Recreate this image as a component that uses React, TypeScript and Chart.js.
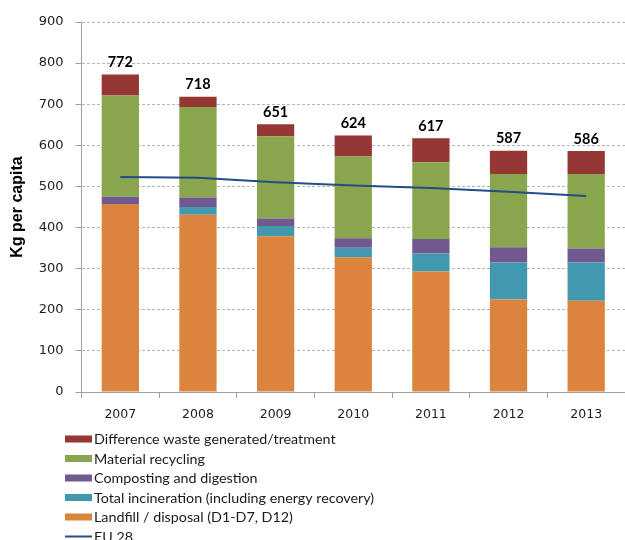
import React, { useEffect, useRef } from "react";
import { Chart, registerables } from "chart.js";

Chart.register(...registerables);

const years = ["2007", "2008", "2009", "2010", "2011", "2012", "2013"];
const landfill = [457, 431, 379, 328, 293, 225, 222];
const incineration = [0, 19, 25, 23, 44, 90, 93];
const composting = [18, 23, 18, 23, 35, 37, 34];
const recycling = [246, 220, 200, 199, 187, 178, 181];
const difference = [51, 25, 29, 51, 58, 57, 56];
const totals = [772, 718, 651, 624, 617, 587, 586];
const eu28 = [523, 521, 510, 502, 496, 487, 477];

const seriesNames = [
  "Landfill / disposal (D1-D7, D12)",
  "Total incineration (including energy recovery)",
  "Composting and digestion",
  "Material recycling",
  "Difference waste generated/treatment",
  "EU 28",
];
const legendOrder = [4, 3, 2, 1, 0, 5];
const yTitle = "Kg per capita";

const totalsPlugin = {
  id: "totalsLabels",
  afterDatasetsDraw(chart: any) {
    const { ctx, scales } = chart;
    ctx.save();
    ctx.font = "bold 14.5px Lato";
    ctx.fillStyle = "#000";
    ctx.textAlign = "center";
    ctx.textBaseline = "middle";
    totals.forEach((t, i) => {
      const x = scales.x.getPixelForValue(i);
      const y = scales.y.getPixelForValue(t);
      ctx.fillText(String(t), x, y - 12);
    });
    ctx.restore();
  },
};

const legendPlugin = {
  id: "listLegend",
  afterDraw(chart: any) {
    const { ctx } = chart;
    const ds = chart.data.datasets;
    ctx.save();
    ctx.font = "14.3px Lato";
    ctx.textBaseline = "middle";
    ctx.textAlign = "left";
    legendOrder.forEach((idx, row) => {
      const d = ds[idx];
      const y = 439 + row * 19.5;
      if (d.type === "line") {
        ctx.strokeStyle = d.borderColor;
        ctx.lineWidth = 2;
        ctx.beginPath();
        ctx.moveTo(65, y);
        ctx.lineTo(92, y);
        ctx.stroke();
      } else {
        ctx.fillStyle = d.backgroundColor;
        ctx.fillRect(65, y - 3.5, 27, 7);
      }
      ctx.fillStyle = "#1a1a1a";
      ctx.fillText(d.label, 94, y + 0.5);
    });
    ctx.restore();
  },
};

export default function App() {
  const ref = useRef<HTMLCanvasElement | null>(null);
  useEffect(() => {
    if (!ref.current) return;
    const barCommon = {
      type: "bar" as const,
      stack: "s",
      order: 1,
      barPercentage: 0.48,
      categoryPercentage: 1,
      borderWidth: 0,
    };
    const chart = new Chart(ref.current, {
      type: "bar",
      data: {
        labels: years,
        datasets: [
          { ...barCommon, label: seriesNames[0], data: landfill, backgroundColor: "#DB843D" },
          { ...barCommon, label: seriesNames[1], data: incineration, backgroundColor: "#4198AF" },
          { ...barCommon, label: seriesNames[2], data: composting, backgroundColor: "#71588F" },
          { ...barCommon, label: seriesNames[3], data: recycling, backgroundColor: "#89A54E" },
          { ...barCommon, label: seriesNames[4], data: difference, backgroundColor: "#953735" },
          {
            type: "line",
            label: seriesNames[5],
            data: eu28,
            borderColor: "#244C85",
            backgroundColor: "#244C85",
            borderWidth: 2,
            pointRadius: 0,
            tension: 0,
            order: 0,
          } as any,
        ],
      },
      options: {
        responsive: false,
        animation: false,
        devicePixelRatio: 1,
        layout: { padding: { top: 22, right: 0, bottom: 118, left: 0 } },
        plugins: {
          legend: { display: false },
          tooltip: { enabled: false },
        },
        scales: {
          x: {
            stacked: true,
            grid: {
              display: true,
              drawOnChartArea: false,
              offset: true,
              tickLength: 6,
              color: "#a0a0a0",
            },
            border: { color: "#a0a0a0", width: 1 },
            ticks: {
              font: { family: "DejaVu Sans", size: 12.5 },
              color: "#222",
              padding: 9,
            },
            afterFit: (s: any) => {
              s.height = 30;
            },
          },
          y: {
            stacked: true,
            min: 0,
            max: 900,
            ticks: {
              stepSize: 100,
              font: { family: "DejaVu Sans", size: 13 },
              color: "#222",
              padding: 12,
            },
            grid: {
              color: "#b4b4b4",
              tickLength: 6,
              tickColor: "#a0a0a0",
              tickBorderDash: [],
            },
            border: { color: "#a0a0a0", width: 1, dash: [3, 2] },
            title: {
              display: true,
              text: yTitle,
              font: { family: "Liberation Sans", size: 16, weight: "bold" },
              color: "#000",
              padding: { top: 8, bottom: 0 },
            },
            afterFit: (s: any) => {
              s.width = 81.5;
            },
          },
        },
      },
      plugins: [totalsPlugin, legendPlugin],
    });
    return () => chart.destroy();
  }, []);
  return (
    <div style={{ position: "absolute", left: 0, top: 0, width: 625, height: 540, background: "#fff" }}>
      <canvas ref={ref} width={625} height={540} />
    </div>
  );
}
